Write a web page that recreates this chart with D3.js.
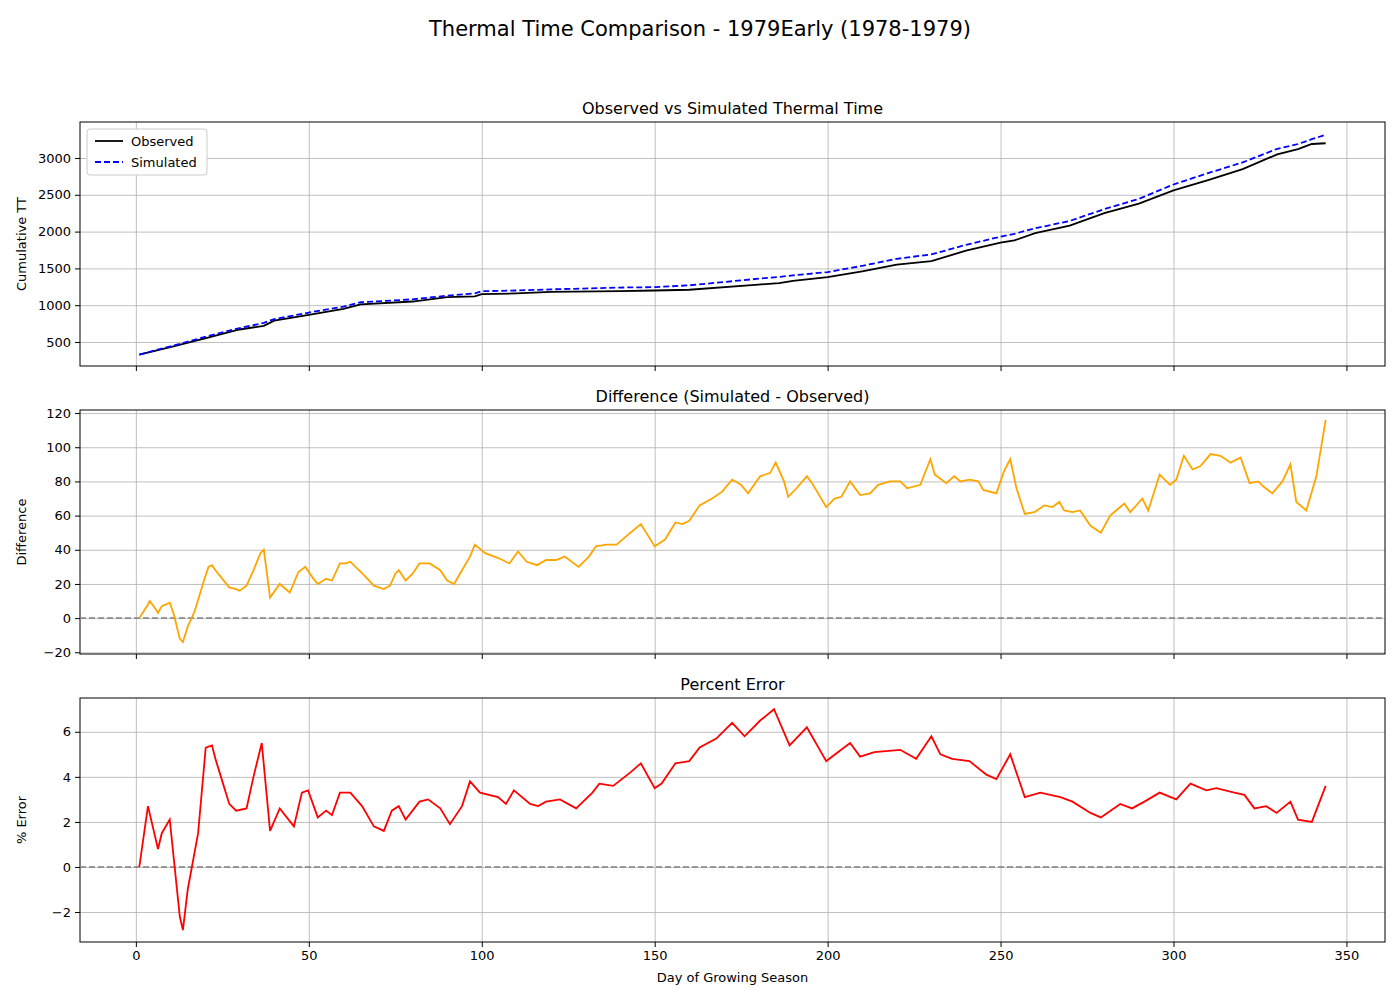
<!DOCTYPE html>
<html><head><meta charset="utf-8">
<script src="https://cdn.jsdelivr.net/npm/d3@7"></script>
<style>body{margin:0;background:#fff;font-family:"DejaVu Sans",sans-serif}</style>
</head><body><svg id="c" width="1400" height="1000"></svg>
<script>
const cumDays=[1,10,20,30,37,40,50,60,65,80,90,98,100,110,120,140,150,160,180,186,190,200,210,220,230,240,250,254,260,270,280,290,300,310,320,330,336,340,344];
const observed=[330,430,550,670,720,790,870,950,1010,1050,1110,1120,1150,1160,1180,1190,1200,1210,1280,1300,1330,1380,1460,1550,1600,1740,1850,1880,1980,2080,2250,2380,2560,2700,2850,3050,3120,3190,3200];
const simulated=[330,440,570,690,760,810,900,980,1040,1080,1130,1160,1190,1200,1215,1240,1245,1270,1360,1385,1405,1450,1535,1630,1690,1820,1930,1970,2045,2145,2305,2445,2640,2795,2940,3125,3190,3255,3315];
const diffDays=[1,3.5,4,5.8,6.4,7.5,9.8,11,12.7,13.6,15,17,19.7,21,22,23,25,27,29,30,32,34,36,37,38.8,41.6,44.5,47,49,51,52.6,55,56.7,59,60.7,62,65,66.5,68.8,71.7,73.5,75,76,78,80,82,85,88,90,92,93.7,96.6,98,101,105,108,110.5,113,116,118.6,121.5,124,128,131,133,136,139,143,146,150,153,156,158,160,163,166.6,169.5,172.4,175,177,180.5,183.4,185,187.4,188.6,191,194,195.5,199.6,202,204,206.5,209.4,212.3,214.6,218,221,223,226.8,229.7,231,234.3,236.6,238.4,241,243.6,245,248.8,251,252.8,254.6,257,259.8,262.7,265,267,268.4,270.8,273,276,279,281.7,284,285.8,287.5,291,292.7,296,299,300.8,303,305.5,307.8,310.7,313.6,316.5,319.4,322,324.5,326,328.6,331.5,333.8,335.5,338.4,341.3,344];
const difference=[0,8,10,5,3,7,9,2,-12,-14,-5,4,22,30,31,28,23,18,17,16,19,28,38,40,12,20,15,27,30,24,20,23,22,32,32,33,27,24,19,17,19,26,28,22,26,32,32,28,22,20,26,36,43,38,35,32,39,33,31,34,34,36,30,36,42,43,43,50,55,42,46,56,55,57,66,70,74,81,78,73,83,85,91,80,71,76,83,79,65,70,71,80,72,73,78,80,80,76,78,93,84,79,83,80,81,80,75,73,86,93,76,61,62,66,65,68,63,62,63,54,50,60,64,67,62,70,63,84,78,81,95,87,89,96,95,91,94,79,80,77,73,80,90,68,63,83,116];
const pctDays=[1,3.5,6.4,7.5,9.8,12.7,13.6,15,18,20.2,22,23,25,27,29,32,34,36.4,38.8,41.6,45.7,48,49.8,52.6,55,56.7,59,62,65.4,68.8,71.7,74,76,78,82,84.5,88,90.8,94.3,96.6,99.5,104.7,107,109.3,114,116.3,118.6,122.6,127.3,132,134,138,143,146,150,152,156,160,163,167.8,172.4,176,180.5,184.5,189,194,199.6,206.5,209.4,213.5,221,225.6,230,232.6,236,241,245.9,248.8,252.8,257,261.5,267.3,270.8,276,279,284.6,288,291.6,296,300.8,304.9,309.5,312.4,317.6,320.5,323.4,326.8,329.8,333.8,336,340,344];
const percentError=[0,2.7,0.8,1.5,2.1,-2.2,-2.8,-1,1.5,5.3,5.4,4.8,3.8,2.8,2.5,2.6,4,5.5,1.6,2.6,1.8,3.3,3.4,2.2,2.5,2.3,3.3,3.3,2.7,1.8,1.6,2.5,2.7,2.1,2.9,3,2.6,1.9,2.7,3.8,3.3,3.1,2.8,3.4,2.8,2.7,2.9,3.0,2.6,3.3,3.7,3.6,4.2,4.6,3.5,3.7,4.6,4.7,5.3,5.7,6.4,5.8,6.5,7,5.4,6.2,4.7,5.5,4.9,5.1,5.2,4.8,5.8,5.0,4.8,4.7,4.1,3.9,5.0,3.1,3.3,3.1,2.9,2.4,2.2,2.8,2.6,2.9,3.3,3.0,3.7,3.4,3.5,3.3,3.2,2.6,2.7,2.4,2.9,2.1,2.0,3.6];
const xTicks=[0,50,100,150,200,250,300,350];

const svg=d3.select("#c");
const L=80,R=1385;
const x=d3.scaleLinear().domain([-16.15,361.15]).range([L,R]);
svg.append("text").attr("x",700).attr("y",36).attr("text-anchor","middle").attr("font-size",21).text("Thermal Time Comparison - 1979Early (1978-1979)");

function panel(top,bot,dom,yticks,title,ylabel,showX){
  const y=d3.scaleLinear().domain(dom).range([bot,top]);
  const g=svg.append("g");
  g.append("g").attr("transform",`translate(0,${bot})`).call(d3.axisBottom(x).tickValues(xTicks).tickSize(-(bot-top)).tickFormat(""))
    .call(a=>{a.selectAll("line").attr("stroke","#b0b0b0").attr("stroke-width",0.8);a.select(".domain").remove();});
  g.append("g").attr("transform",`translate(${L},0)`).call(d3.axisLeft(y).tickValues(yticks).tickSize(-(R-L)).tickFormat(""))
    .call(a=>{a.selectAll("line").attr("stroke","#b0b0b0").attr("stroke-width",0.8);a.select(".domain").remove();});
  const xa=g.append("g").attr("transform",`translate(0,${bot})`).call(d3.axisBottom(x).tickValues(xTicks).tickSize(5).tickPadding(4).tickFormat(showX?d3.format("d"):""));
  xa.select(".domain").remove();
  const ya=g.append("g").attr("transform",`translate(${L},0)`).call(d3.axisLeft(y).tickValues(yticks).tickSize(5).tickPadding(4).tickFormat(d=>String(d).replace("-","\u2212")));
  ya.select(".domain").remove();
  g.selectAll(".tick text").attr("font-size",13).attr("font-family","DejaVu Sans").attr("fill","#000");
  g.append("rect").attr("x",L).attr("y",top).attr("width",R-L).attr("height",bot-top).attr("fill","none").attr("stroke","#000").attr("stroke-width",1);
  g.append("text").attr("x",(L+R)/2).attr("y",top-8).attr("text-anchor","middle").attr("font-size",16).text(title);
  g.append("text").attr("transform",`translate(26,${(top+bot)/2}) rotate(-90)`).attr("text-anchor","middle").attr("font-size",13).text(ylabel);
  return {g,y};
}
function line(p,days,vals,color,dash){
  p.g.append("path").datum(days.map((d,i)=>[d,vals[i]])).attr("fill","none").attr("stroke",color).attr("stroke-width",1.8)
   .attr("stroke-dasharray",dash||null).attr("d",d3.line().x(d=>x(d[0])).y(d=>p.y(d[1])));
}
function zero(p){p.g.append("line").attr("x1",L).attr("x2",R).attr("y1",p.y(0)).attr("y2",p.y(0)).attr("stroke","#808080").attr("stroke-width",1.5).attr("stroke-dasharray","6,3");}

const p1=panel(122,366,[174,3489],[500,1000,1500,2000,2500,3000],"Observed vs Simulated Thermal Time","Cumulative TT",false);
line(p1,cumDays,observed,"#000");
line(p1,cumDays,simulated,"#0000ff","6,3");
const lg=p1.g.append("g").attr("transform","translate(87,129)");
lg.append("rect").attr("width",120).attr("height",46).attr("rx",3).attr("fill","#fff").attr("stroke","#ccc");
lg.append("line").attr("x1",8).attr("x2",36).attr("y1",12).attr("y2",12).attr("stroke","#000").attr("stroke-width",1.8);
lg.append("line").attr("x1",8).attr("x2",36).attr("y1",33).attr("y2",33).attr("stroke","#00f").attr("stroke-width",1.8).attr("stroke-dasharray","6,3");
lg.append("text").attr("x",44).attr("y",17).attr("font-size",13).text("Observed");
lg.append("text").attr("x",44).attr("y",38).attr("font-size",13).text("Simulated");

const p2=panel(410,654,[-21,121.8],[-20,0,20,40,60,80,100,120],"Difference (Simulated - Observed)","Difference",false);
zero(p2);
line(p2,diffDays,difference,"orange");

const p3=panel(698,942,[-3.33,7.5],[-2,0,2,4,6],"Percent Error","% Error",true);
zero(p3);
line(p3,pctDays,percentError,"#ff0000");
svg.append("text").attr("x",(L+R)/2).attr("y",982).attr("text-anchor","middle").attr("font-size",13).text("Day of Growing Season");
</script></body></html>
